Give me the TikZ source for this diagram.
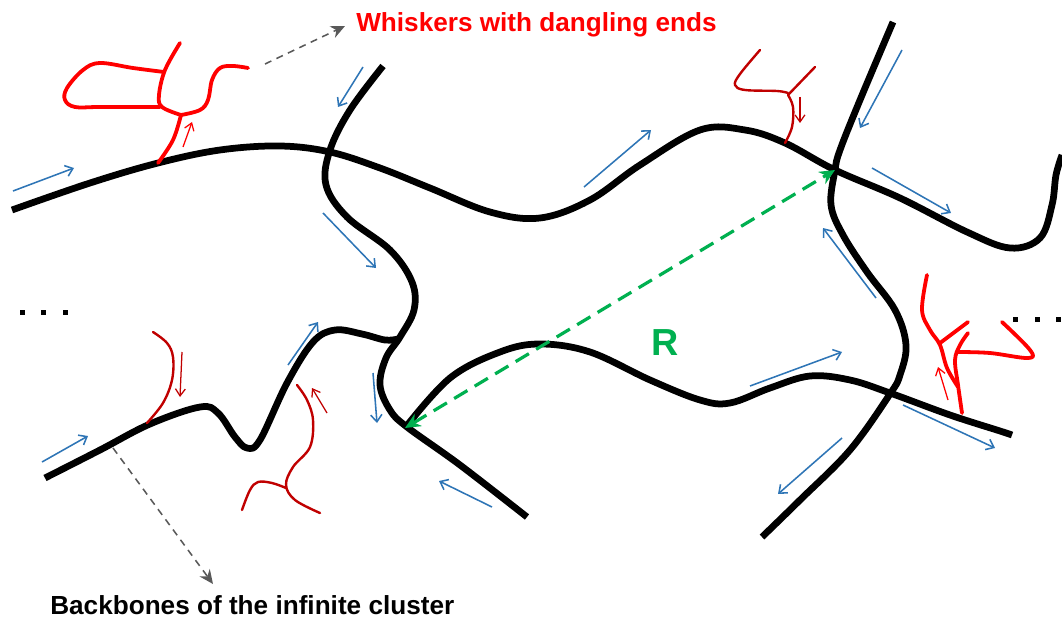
\documentclass[tikz,border=0pt]{standalone}
\usepackage{fontspec}
\setmainfont{Liberation Sans}
\usetikzlibrary{arrows.meta}
\definecolor{bbblue}{RGB}{46,117,182}
\definecolor{wred}{RGB}{255,0,0}
\definecolor{dred}{RGB}{192,0,0}
\definecolor{rgreen}{RGB}{0,176,80}
\definecolor{dgray}{RGB}{89,89,89}
\begin{document}
\begin{tikzpicture}[x=0.025cm,y=-0.025cm,
 backbone/.style={line width=4.8pt, line join=round},
 whisk/.style={wred, line width=2.7pt, line cap=round, line join=round},
 dwhisk/.style={dred, line width=1.7pt, line cap=round, line join=round},
 flow/.style={bbblue, line width=1.1pt, -{Straight Barb[length=5pt,width=8pt]}},
 rflow/.style={dred, line width=0.9pt, -{Straight Barb[length=5pt,width=7pt]}},
 wflow/.style={wred, line width=0.9pt, -{Straight Barb[length=5pt,width=7pt]}},
 callout/.style={dgray, line width=1.1pt, dash pattern=on 5pt off 4pt, -{Stealth[length=10pt,width=9pt]}},
 lbl/.style={font=\bfseries\fontsize{18.6}{22}\selectfont, inner sep=0pt}]
\useasboundingbox (0,0) rectangle (1062,623);

% backbones
\draw[backbone] plot[smooth, tension=0.6] coordinates {(12,210) (90,183) (158,163) (220,150) (280,146) (330,152) (380,168) (430,188) (490,212) (540,218) (590,200) (640,165) (700,130) (745,130) (785,143) (835,170) (900,198) (967,232) (1010,248) (1040,238) (1052,205) (1056,175) (1062,155)};
\draw[backbone] plot[smooth, tension=0.6] coordinates {(383,66) (350,110) (330,150) (326,185) (347,217) (390,250) (412,282) (414,310) (400,337) (386,358) (380,385) (390,410) (407,427) (460,465) (527,517)};
\draw[backbone] plot[smooth, tension=0.6] coordinates {(45,478) (100,450) (150,424) (200,407) (218,413) (235,437) (247,448) (260,440) (287,383) (313,342) (335,330) (362,334) (385,340) (398,339)};
\draw[backbone] plot[smooth, tension=0.6] coordinates {(405,428) (450,378) (500,352) (540,344) (590,352) (650,380) (700,400) (730,403) (770,388) (810,376) (850,380) (890,393) (950,415) (1000,431) (1012,435)};
\draw[backbone] plot[smooth, tension=0.6] coordinates {(893,22) (860,100) (840,150) (835,170) (831,205) (843,235) (867,272) (895,310) (906,345) (900,375) (890,394) (850,450) (800,500) (762,537)};

% whisker top-left
\draw[whisk] plot[smooth, tension=0.6] coordinates {(158,163) (173,140) (181,115)};
\draw[whisk] plot[smooth, tension=0.6] coordinates {(180,43) (165,70) (159,95) (162,107) (181,115)};
\draw[whisk] plot[smooth, tension=0.6] coordinates {(164,72) (133,68) (100,63) (83,70) (67,88) (65,100) (75,107) (100,107) (160,107)};
\draw[whisk] plot[smooth, tension=0.6] coordinates {(181,115) (200,110) (208,100) (212,80) (220,68) (233,66) (248,68)};
\draw[wflow] (183,147) -- (192,122);

% whisker top-right
\draw[dwhisk] plot[smooth, tension=0.6] coordinates {(785,143) (792,127) (793,107) (788,95)};
\draw[dwhisk] plot[smooth, tension=0.6] coordinates {(788,93) (777,91) (745,90) (735,85) (740,74) (760,50)};
\draw[dwhisk] (788,95) -- (815,67);
\draw[rflow] (800,97) -- (800,123);

% whisker lower-left
\draw[dwhisk] plot[smooth, tension=0.6] coordinates {(153,332) (167,343) (173,357) (172,380) (163,403) (147,423)};
\draw[rflow] (182,352) -- (180,397);

% whisker lower-middle
\draw[dwhisk] plot[smooth, tension=0.6] coordinates {(297,385) (307,400) (313,420) (310,447) (293,467) (286,485) (295,500) (320,513)};
\draw[dwhisk] plot[smooth, tension=0.6] coordinates {(286,488) (272,483) (258,482) (250,490) (242,510)};
\draw[rflow] (327,413) -- (312,388);

% whisker right
\draw[whisk] plot[smooth, tension=0.6] coordinates {(927,275) (922,310) (930,330) (940,345) (947,368) (958,387)};
\draw[whisk] (940,343) -- (968,322);
\draw[whisk] plot[smooth, tension=0.6] coordinates {(962,413) (958,385) (955,360) (960,345) (968,333)};
\draw[whisk] plot[smooth, tension=0.6] coordinates {(958,352) (990,353) (1028,358) (1030,350) (1002,322)};
\draw[wflow] (948,400) -- (938,367);

% flow arrows
\draw[flow] (13,191) -- (74,168);
\draw[flow] (363,67) -- (338,107);
\draw[flow] (584,187) -- (651,130);
\draw[flow] (902,50) -- (860,128);
\draw[flow] (872,168) -- (951,213);
\draw[flow] (876,298) -- (823,228);
\draw[flow] (323,213) -- (376,268);
\draw[flow] (288,365) -- (318,322);
\draw[flow] (373,373) -- (377,423);
\draw[flow] (42,462) -- (88,436);
\draw[flow] (492,507) -- (439,481);
\draw[flow] (750,386) -- (842,352);
\draw[flow] (842,438) -- (778,494);
\draw[flow] (903,405) -- (995,448);

% R distance
\coordinate (ga) at (405,428);
\coordinate (gb) at (835,170);
\draw[rgreen, line width=2.3pt, dash pattern=on 11pt off 6pt, {Stealth[length=11pt,width=10pt]}-{Stealth[length=11pt,width=10pt]}] (ga) -- (gb);
\node[lbl, text=rgreen, font=\bfseries\fontsize{26.8}{30}\selectfont, anchor=base west] (r) at (651,355) {R};

% labels
\node[lbl, text=wred, anchor=base west] (wl) at (356,32) {Whiskers with dangling ends};
\node[lbl, anchor=base west] (bl) at (50,614) {Backbones of the infinite cluster};
\coordinate (c1s) at (265,64);
\coordinate (c1e) at (345,26);
\coordinate (c2s) at (113,448);
\coordinate (c2e) at (213,584);
\draw[callout] (c1s) -- (c1e);
\draw[callout] (c2s) -- (c2e);

% ellipses
\foreach \x in {22,43,65} \fill (\x-2.5,309.5) rectangle +(5,5);
\foreach \x in {1015,1037,1058} \fill (\x-2.5,316.5) rectangle +(5,5);
\end{tikzpicture}
\end{document}
